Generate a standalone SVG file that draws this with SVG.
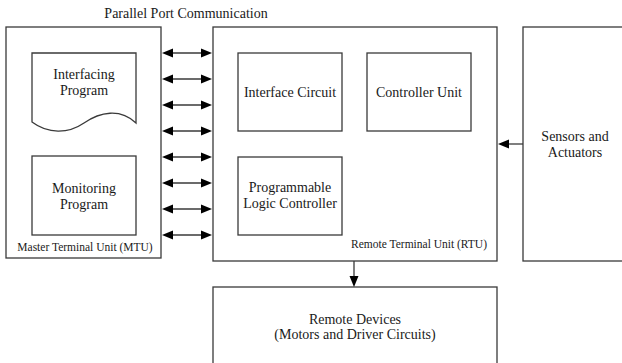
<svg xmlns="http://www.w3.org/2000/svg" width="622" height="363" viewBox="0 0 622 363">
  <style>
    .box { fill: #ffffff; stroke: #3a3a3a; stroke-width: 1.3; }
    .lbl { font-family: 'Liberation Serif', 'Times New Roman', Times, 'DejaVu Serif', serif; font-size: 14px; fill: #1a1a1a; text-anchor: middle; }
    .small { font-family: 'Liberation Serif', 'Times New Roman', Times, 'DejaVu Serif', serif; font-size: 11.5px; fill: #1a1a1a; }
    .wire { stroke: #3a3a3a; stroke-width: 1.3; fill: none; }
    .head { fill: #000000; }
  </style>
  <rect width="622" height="363" fill="#ffffff"/>

  <text class="lbl" x="186" y="18" font-family="Liberation Serif, Times New Roman, serif">Parallel Port Communication</text>

  <g id="mtu">
    <rect class="box" x="6" y="27" width="155" height="231"/>
    <text class="small" x="85" y="251" text-anchor="middle">Master Terminal Unit (MTU)</text>
  </g>

  <g id="interfacing-program">
    <path class="box" d="M32,53 H136 V123 C120,108 100,112 84,123 C68,134 48,134 32,122 Z"/>
    <text class="lbl" x="84" y="79">Interfacing</text>
    <text class="lbl" x="84" y="95">Program</text>
  </g>

  <g id="monitoring-program">
    <rect class="box" x="32" y="156" width="104" height="79"/>
    <text class="lbl" x="84" y="193">Monitoring</text>
    <text class="lbl" x="84" y="209">Program</text>
  </g>

  <g id="rtu">
    <rect class="box" x="213" y="27" width="284" height="234"/>
    <text class="small" x="487" y="248" text-anchor="end">Remote Terminal Unit (RTU)</text>
  </g>

  <g id="interface-circuit">
    <rect class="box" x="238" y="53" width="104" height="78"/>
    <text class="lbl" x="290" y="97">Interface Circuit</text>
  </g>

  <g id="controller-unit">
    <rect class="box" x="367" y="53" width="104" height="78"/>
    <text class="lbl" x="419" y="97">Controller Unit</text>
  </g>

  <g id="plc">
    <rect class="box" x="238" y="157" width="104" height="78"/>
    <text class="lbl" x="290" y="192">Programmable</text>
    <text class="lbl" x="290" y="208">Logic Controller</text>
  </g>

  <g id="sensors-actuators">
    <rect class="box" x="523" y="27" width="110" height="234"/>
    <text class="lbl" x="575" y="141">Sensors and</text>
    <text class="lbl" x="575" y="157">Actuators</text>
  </g>

  <g id="remote-devices">
    <rect class="box" x="213" y="287" width="284" height="90"/>
    <text class="lbl" x="355" y="324">Remote Devices</text>
    <text class="lbl" x="355" y="339">(Motors and Driver Circuits)</text>
  </g>

  <defs>
    <g id="bus-line">
      <line class="wire" x1="170" y1="0" x2="204" y2="0"/>
      <polygon class="head" points="162,0 173,-4.5 173,4.5"/>
      <polygon class="head" points="212,0 201,-4.5 201,4.5"/>
    </g>
  </defs>

  <g id="connectors">
    <use href="#bus-line" y="53"/>
    <use href="#bus-line" y="79"/>
    <use href="#bus-line" y="105"/>
    <use href="#bus-line" y="131"/>
    <use href="#bus-line" y="157"/>
    <use href="#bus-line" y="183"/>
    <use href="#bus-line" y="209"/>
    <use href="#bus-line" y="235"/>

    <line class="wire" x1="523" y1="144" x2="506" y2="144"/>
    <polygon class="head" points="498,144 509,139.5 509,148.5"/>

    <line class="wire" x1="354" y1="261" x2="354" y2="278"/>
    <polygon class="head" points="354,287 349.5,276 358.5,276"/>
  </g>
</svg>
